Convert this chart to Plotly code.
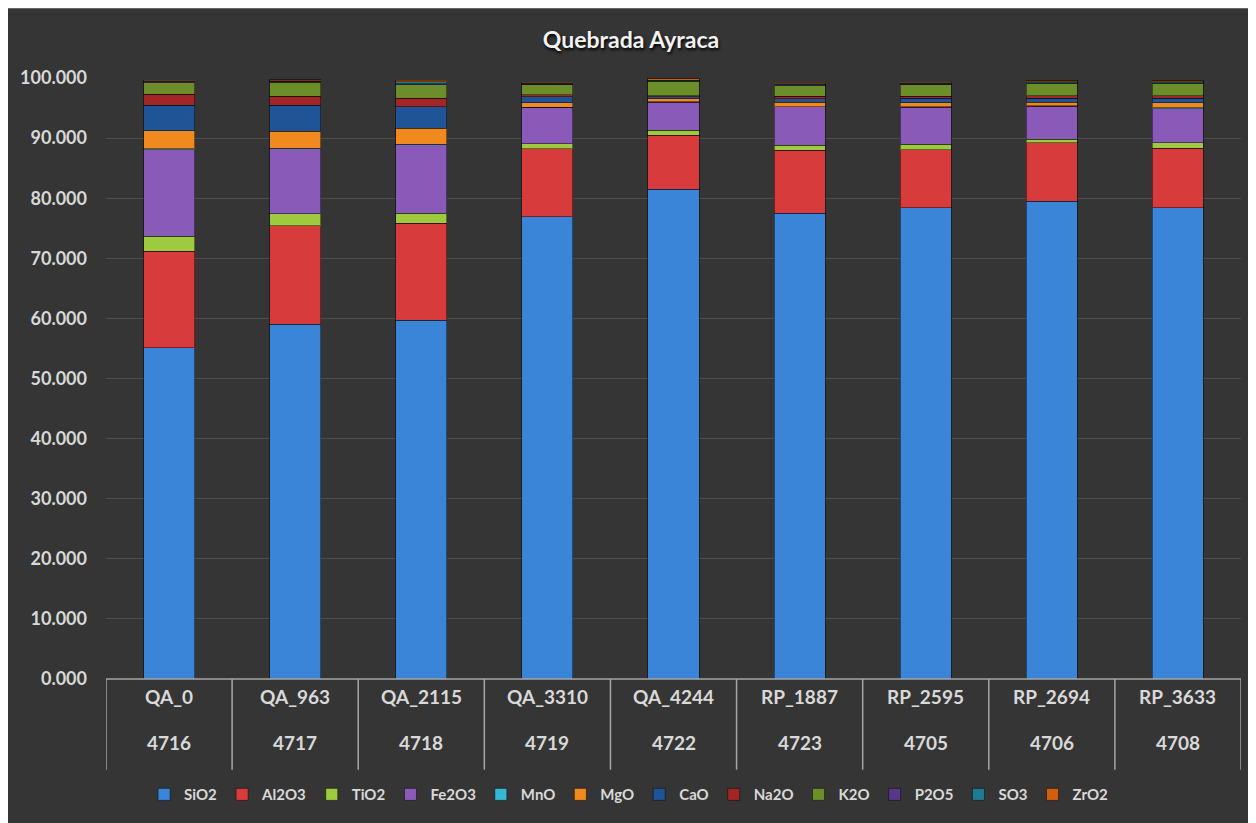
import plotly.graph_objs as go

samples = ["QA_0", "QA_963", "QA_2115", "QA_3310", "QA_4244", "RP_1887", "RP_2595", "RP_2694", "RP_3633"]
codes = ["4716", "4717", "4718", "4719", "4722", "4723", "4705", "4706", "4708"]

SiO2 = [55.1, 59.0, 59.7, 76.9, 81.5, 77.5, 78.4, 79.5, 78.4]
Al2O3 = [16.1, 16.4, 16.1, 11.3, 9.0, 10.5, 9.7, 9.7, 9.9]
TiO2 = [2.5, 2.0, 1.7, 0.85, 0.8, 0.85, 0.85, 0.65, 0.95]
Fe2O3 = [14.4, 10.8, 11.4, 6.05, 4.7, 6.35, 6.2, 5.45, 5.65]
MnO = [0.1, 0.1, 0.1, 0.05, 0.05, 0.05, 0.05, 0.05, 0.15]
MgO = [3.0, 2.8, 2.6, 0.7, 0.5, 0.7, 0.7, 0.6, 0.8]
CaO = [4.25, 4.35, 3.6, 1.0, 0.3, 0.6, 0.7, 0.7, 0.8]
Na2O = [1.85, 1.55, 1.4, 0.4, 0.2, 0.4, 0.4, 0.4, 0.4]
K2O = [1.9, 2.3, 2.3, 1.6, 2.4, 1.8, 1.9, 2.1, 2.1]
P2O5 = [0.15, 0.15, 0.15, 0.1, 0.1, 0.1, 0.1, 0.1, 0.1]
SO3 = [0.1, 0.1, 0.35, 0.15, 0.1, 0.1, 0.1, 0.1, 0.1]
ZrO2 = [0.2, 0.2, 0.2, 0.2, 0.2, 0.2, 0.2, 0.2, 0.2]

series = [
    ("SiO2", SiO2, "#3a85d8"),
    ("Al2O3", Al2O3, "#d83b3b"),
    ("TiO2", TiO2, "#9dca3e"),
    ("Fe2O3", Fe2O3, "#8a5ab9"),
    ("MnO", MnO, "#38b6d6"),
    ("MgO", MgO, "#f08a1e"),
    ("CaO", CaO, "#1f5596"),
    ("Na2O", Na2O, "#a32626"),
    ("K2O", K2O, "#6b8e2a"),
    ("P2O5", P2O5, "#573886"),
    ("SO3", SO3, "#217a91"),
    ("ZrO2", ZrO2, "#d0600f"),
]

FONT = "Lato, 'Open Sans', sans-serif"
TXT = "#d9d9d9"

fig = go.Figure()
for name, vals, col in series:
    fig.add_trace(go.Bar(
        x=samples, y=vals, name=name,
        marker=dict(color=col, line=dict(color="rgba(0,0,0,0.45)", width=1)),
    ))

# page has an 8px body margin, so the figure is 1248x815 and
# reference pixel p maps to p - 8 in figure coords
OFF = 8
FW, FH = 1248, 815
L, T = 104 - OFF, 78 - OFF
R, B = FW - (1241 - OFF), FH - (681 - OFF)
W, H = FW - L - R, FH - T - B

def px_x(p):
    return (p - OFF - L) / W

def px_y(p):
    return (FH - B - (p - OFF)) / H

shapes = [
    dict(type="rect", xref="paper", yref="paper", layer="below",
         x0=px_x(5), x1=px_x(1270), y0=px_y(840), y1=px_y(8),
         fillcolor="#353535", line=dict(width=0)),
    dict(type="line", xref="paper", yref="paper", x0=0, x1=1, y0=0, y1=0,
         line=dict(color="#a6a6a6", width=1.5)),
]
for i in range(len(samples) + 1):
    shapes.append(dict(type="line", xref="x", yref="paper",
                       x0=i - 0.5, x1=i - 0.5, y0=0, y1=px_y(772),
                       line=dict(color="#a6a6a6", width=1.5)))

annotations = []
for s, c in zip(samples, codes):
    annotations.append(dict(x=s, y=px_y(712), xref="x", yref="paper", text="<b>%s</b>" % s,
                            showarrow=False, font=dict(family=FONT, size=19, color=TXT)))
    annotations.append(dict(x=s, y=px_y(758), xref="x", yref="paper", text="<b>%s</b>" % c,
                            showarrow=False, font=dict(family=FONT, size=19, color=TXT)))

fig.update_layout(
    width=FW, height=FH,
    barmode="stack", bargap=0.595,
    paper_bgcolor="white", plot_bgcolor="rgba(0,0,0,0)",
    margin=dict(l=L, r=R, t=T, b=B),
    title=dict(text="<b>Quebrada Ayraca</b>", x=(631 - OFF) / FW, xref="container", xanchor="center",
               y=1 - (40 - OFF) / FH, yanchor="middle",
               font=dict(family=FONT, size=23, color="#f2f2f2", shadow="1px 2px 3px #000")),
    xaxis=dict(showticklabels=False, showgrid=False, zeroline=False, range=[-0.5, len(samples) - 0.5]),
    yaxis=dict(range=[0, 100], dtick=10, tickformat=".3f", showgrid=True, gridcolor="#4d4d4d",
               gridwidth=1, zeroline=False, ticks="", ticklabelstandoff=18,
               tickfont=dict(family=FONT, size=18, color=TXT, weight="bold")),
    legend=dict(orientation="h", x=px_x(628), xanchor="center", y=px_y(797), yanchor="middle",
                font=dict(family=FONT, size=15, color=TXT, weight="bold"),
                bgcolor="rgba(0,0,0,0)", itemwidth=30, traceorder="normal"),
    shapes=shapes, annotations=annotations,
)

fig.write_html("out.html")
